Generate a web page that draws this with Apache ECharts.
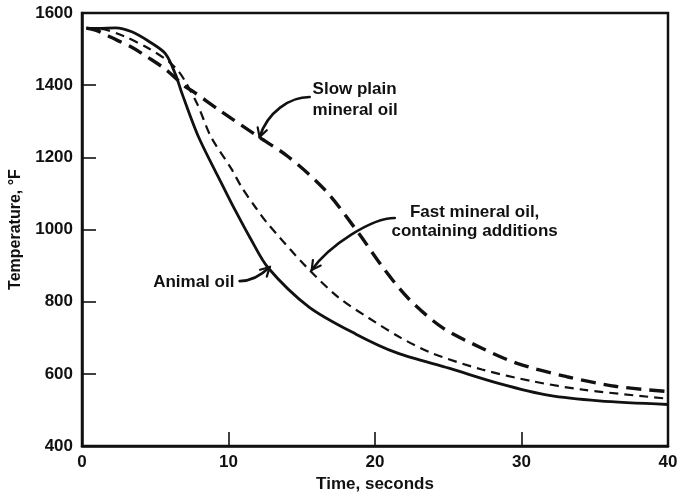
<!DOCTYPE html>
<html>
<head>
<meta charset="utf-8">
<title>Quenching curves</title>
<script src="https://cdn.jsdelivr.net/npm/echarts@6/dist/echarts.min.js"></script>
<style>
  html, body { margin: 0; padding: 0; background: #fff; }
  #chart { width: 681px; height: 498px; }
</style>
</head>
<body>
<div id="chart"></div>
<script>
// Axis ticks
const timeTicks = [0, 10, 20, 30, 40];
const tempTicks = [400, 600, 800, 1000, 1200, 1400, 1600];

// Cooling curves: [time (s), temperature (°F)]
const animalOil = [
  [0.3, 1558], [1.1, 1557], [2.3, 1559], [3.4, 1548], [4.5, 1523], [5.7, 1487],
  [6.4, 1428], [6.8, 1380], [7.95, 1257], [9.66, 1117], [10.5, 1050], [11.5, 975],
  [12.7, 894], [15.5, 785], [18.7, 710], [21.5, 658], [25.1, 615], [28.5, 573],
  [31.9, 540], [35.3, 525], [40, 515]
];
const fastMineralOil = [
  [0.3, 1558], [1.5, 1555], [2.9, 1535], [4.5, 1503], [5.9, 1466], [6.6, 1438],
  [7.05, 1410], [7.9, 1345], [8.8, 1257], [10.2, 1168], [10.9, 1117], [11.85, 1061],
  [12.6, 1020], [15.3, 897], [17.5, 812], [19.6, 754], [21.8, 699], [23.9, 657],
  [27.3, 612], [30.8, 579], [34.2, 556], [40, 531]
];
const slowMineralOil = [
  [0.3, 1558], [1.1, 1550], [1.8, 1536], [3.4, 1505], [4.5, 1477], [5.7, 1444],
  [7.05, 1396], [7.5, 1385], [9.5, 1327], [12.05, 1257], [14.1, 1201], [16.6, 1109],
  [18.9, 989], [20.5, 897], [22.3, 808], [24.6, 728], [27.3, 671], [29.7, 629],
  [33.1, 592], [36.5, 565], [40, 551]
];

// Callout labels, placed in data units
const noteLines = [
  { text: 'Slow plain', at: [15.74, 1389], align: 'left' },
  { text: 'mineral oil', at: [15.74, 1331], align: 'left' },
  { text: 'Fast mineral oil,', at: [26.8, 1048], align: 'center' },
  { text: 'containing additions', at: [26.8, 996], align: 'center' },
  { text: 'Animal oil', at: [7.63, 854], align: 'center' }
];
// Curved leader arrows: start, control 1, control 2, tip
const leaderArrows = [
  [[15.54, 1367], [14.17, 1367], [12.67, 1326], [12.12, 1256]],
  [[21.35, 1032], [19.77, 1032], [16.9, 957], [15.68, 888]],
  [[10.76, 857], [11.58, 857], [12.26, 874], [12.81, 896]]
];

const FONT = '"Liberation Sans", Arial, Helvetica, sans-serif';
const INK = '#111';

const chart = echarts.init(document.getElementById('chart'), null, { renderer: 'canvas' });

const lineSeries = (name, data, width, dash) => ({
  name,
  type: 'line',
  data,
  smooth: 0.3,
  showSymbol: false,
  symbol: 'none',
  silent: true,
  lineStyle: { color: INK, width, type: dash, cap: 'butt' },
  z: 3
});

const tickLabel = { fontFamily: FONT, fontWeight: 'bold', fontSize: 17, color: INK, formatter: (v) => String(v) };

chart.setOption({
  animation: false,
  backgroundColor: '#fff',
  grid: {
    left: 82, right: 13, top: 13, bottom: 52,
    show: true, borderColor: INK, borderWidth: 2.5, backgroundColor: 'transparent'
  },
  xAxis: {
    type: 'value',
    min: timeTicks[0],
    max: timeTicks[timeTicks.length - 1],
    interval: timeTicks[1] - timeTicks[0],
    name: 'Time, seconds',
    nameLocation: 'middle',
    nameGap: 29,
    nameTextStyle: { fontFamily: FONT, fontWeight: 'bold', fontSize: 17, color: INK },
    axisLine: { show: true, lineStyle: { color: INK, width: 2.5 } },
    axisTick: { show: true, inside: true, length: 14, lineStyle: { color: INK, width: 1.6 } },
    axisLabel: Object.assign({ margin: 8 }, tickLabel),
    splitLine: { show: false }
  },
  yAxis: {
    type: 'value',
    min: tempTicks[0],
    max: tempTicks[tempTicks.length - 1],
    interval: tempTicks[1] - tempTicks[0],
    name: 'Temperature, °F',
    nameLocation: 'middle',
    nameGap: 58,
    nameTextStyle: { fontFamily: FONT, fontWeight: 'bold', fontSize: 16, color: INK },
    axisLine: { show: true, lineStyle: { color: INK, width: 2.5 } },
    axisTick: { show: true, inside: true, length: 14, lineStyle: { color: INK, width: 1.6 } },
    axisLabel: Object.assign({ margin: 9 }, tickLabel),
    splitLine: { show: false }
  },
  series: [
    lineSeries('Animal oil', animalOil, 2.8, 'solid'),
    lineSeries('Fast mineral oil, containing additions', fastMineralOil, 2.2, [9, 6]),
    lineSeries('Slow plain mineral oil', slowMineralOil, 3.4, [15, 8])
  ]
});

// Callouts and leader arrows, positioned through the axes
const toPx = (p) => chart.convertToPixel({ gridIndex: 0 }, p);
const graphics = [];

noteLines.forEach((n) => {
  const [x, y] = toPx(n.at);
  graphics.push({
    type: 'text', x, y, silent: true, z: 10,
    style: {
      text: n.text, fill: INK, font: 'bold 17px ' + FONT,
      textAlign: n.align, textVerticalAlign: 'middle'
    }
  });
});

leaderArrows.forEach((pts) => {
  const [s, c1, c2, e] = pts.map(toPx);
  graphics.push({
    type: 'bezierCurve', silent: true, z: 10,
    shape: { x1: s[0], y1: s[1], cpx1: c1[0], cpy1: c1[1], cpx2: c2[0], cpy2: c2[1], x2: e[0], y2: e[1] },
    style: { stroke: INK, lineWidth: 2.6, fill: null, lineCap: 'round' }
  });
  // open arrowhead along the final tangent
  const dx = e[0] - c2[0], dy = e[1] - c2[1];
  const len = Math.hypot(dx, dy) || 1;
  const ux = dx / len, uy = dy / len;
  const L = 10, a = 0.5;
  const rot = (ang) => [
    e[0] - L * (ux * Math.cos(ang) - uy * Math.sin(ang)),
    e[1] - L * (ux * Math.sin(ang) + uy * Math.cos(ang))
  ];
  graphics.push({
    type: 'polyline', silent: true, z: 10,
    shape: { points: [rot(a), e, rot(-a)] },
    style: { stroke: INK, lineWidth: 2.2, fill: null, lineJoin: 'miter', lineCap: 'round' }
  });
});

chart.setOption({ graphic: graphics });
</script>
</body>
</html>
